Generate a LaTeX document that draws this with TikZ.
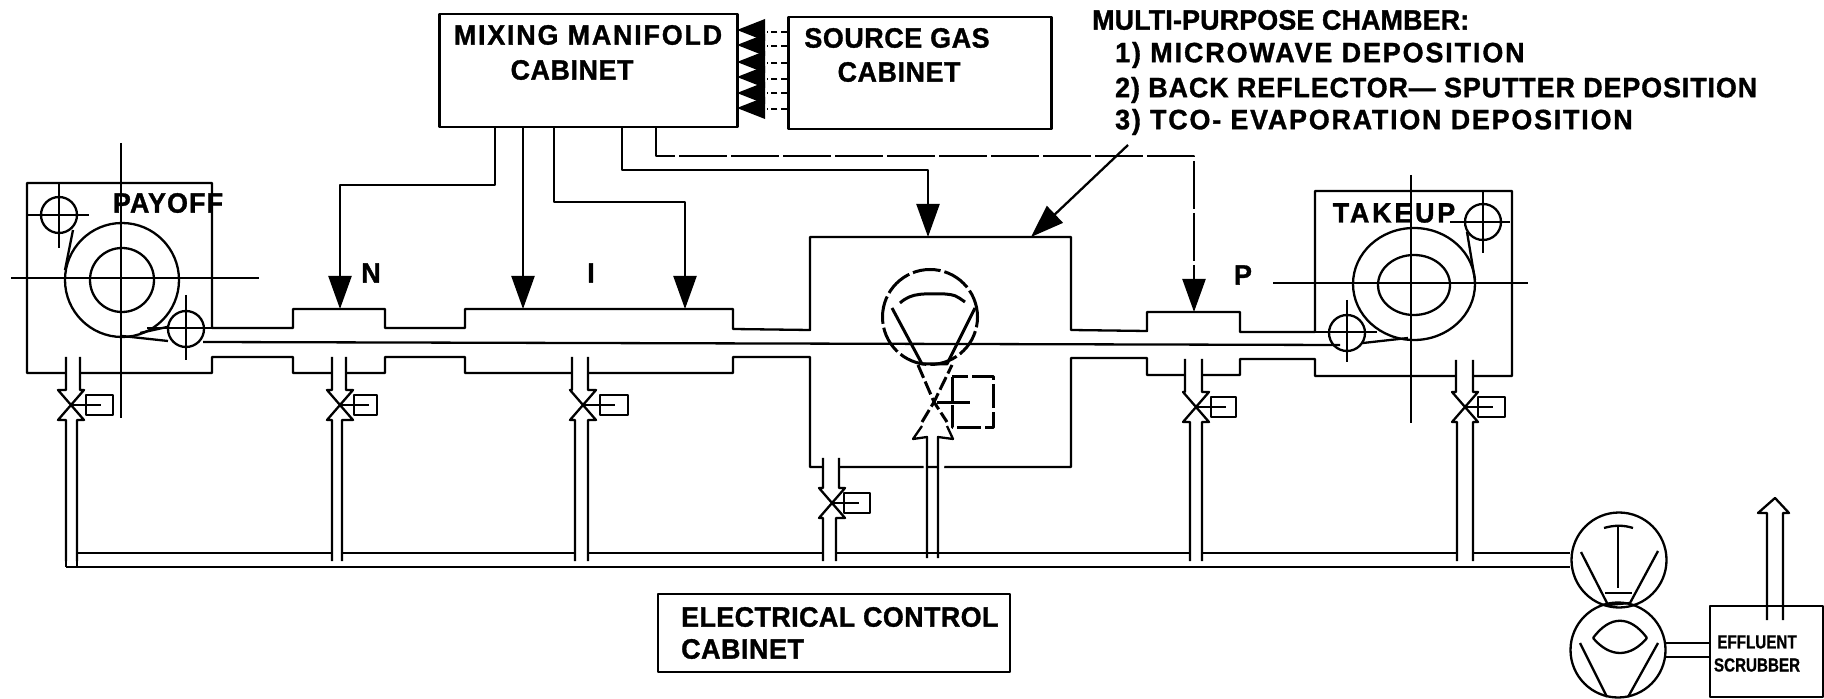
\documentclass[tikz,border=0pt]{standalone}
\usepackage{fontspec}
\newfontfamily\plotfont[FakeStretch=0.96,LetterSpace=2,BoldFeatures={FakeBold=1.2}]{Liberation Sans}
\newfontfamily\smallplotfont[FakeStretch=0.8,BoldFeatures={FakeBold=0.8}]{Liberation Sans}
\usetikzlibrary{
  arrows.meta, positioning, shapes.geometric
}

\begin{document}
\begin{tikzpicture}[
  x=0.5pt, y=-0.5pt, line width=1.15pt, line join=round,
  cabinet/.style={draw, minimum width=#1, inner sep=0pt},
  txt/.style={font=\fontsize{14}{14}\plotfont\bfseries, inner sep=0pt},
  spaced/.style={inner sep=0pt, font=\fontsize{14}{14}\plotfont\bfseries\addfontfeature{LetterSpace=#1}},
  smalltxt/.style={font=\fontsize{9.5}{9.5}\smallplotfont\bfseries, inner sep=0pt},
  roller/.style={draw, circle, inner sep=0pt, minimum size=18pt},
  pump/.style={draw, circle, inner sep=0pt, minimum size=47.5pt},
  gas/.style={-{Triangle[length=16.5pt,width=11.5pt]}},
  hidden/.style={line width=1.5pt, dash pattern=on 14pt off 2pt}
]
\useasboundingbox (0,0) rectangle (1824,699);

% cabinets
\node[cabinet=149pt, minimum height=56.5pt] (mixing) at (588.5,70.5) {};
\node[cabinet=131.5pt, minimum height=56pt] (source) at (920,73) {};
\node[cabinet=176pt, minimum height=39pt] (control) at (834,633) {};
\node[cabinet=56.5pt, minimum height=45.5pt] (scrubber) at (1766.5,651.5) {};

\node[spaced=6.4] (mixingtxt) at (588,35) {MIXING MANIFOLD};
\node[txt] (mixingtxtb) at (572,70) {CABINET};
\node[txt] (sourcetxt) at (897,38) {SOURCE GAS};
\node[txt] (sourcetxtb) at (899,72) {CABINET};
\node[spaced=1.5, anchor=west] (controltxt) at (680,617) {ELECTRICAL CONTROL};
\node[txt, anchor=west] (controltxtb) at (680,649) {CABINET};
\node[smalltxt] (scrubtxt) at (1757,642) {EFFLUENT};
\node[smalltxt] (scrubtxtb) at (1757,665) {SCRUBBER};

\node[spaced=0.5, anchor=west] (chambertxt) at (1091,20) {MULTI-PURPOSE CHAMBER:};
\node[spaced=6.8, anchor=west] (microtxt) at (1114,55) {1) MICROWAVE DEPOSITION};
\node[spaced=3.2, anchor=west] (backtxt) at (1114,90) {2) BACK REFLECTOR— SPUTTER DEPOSITION};
\node[spaced=6.4, anchor=west] (tcotxt) at (1114,122) {3) TCO- EVAPORATION DEPOSITION};

\node[spaced=4] (payofftxt) at (168,203) {PAYOFF};
\node[spaced=10] (takeuptxt) at (1394,213) {TAKEUP};
\node[txt] (ntxt) at (371,273) {N};
\node[txt] (itxt) at (591,273) {I};
\node[txt] (ptxt) at (1243,275) {P};

% source gas feeds
\foreach \gy/\ly in {30/32, 45/46, 62/63, 77/79, 93/93, 108/109} {
  \fill (737,\gy) -- (765,\gy-11) -- (765,\gy+11) -- cycle;
  \draw[densely dashed] (source.west |- 0,\ly) -- (767,\ly);
}

% chamber outline
\draw (212,183) -- (212,328) -- (293,328) -- (293,309) -- (385,309) -- (385,328)
  -- (465,328) -- (465,309) -- (733,309) -- (733,329) -- (810,330) -- (810,237)
  -- (1071,237) -- (1071,330) -- (1147,331) -- (1147,312) -- (1240,312) -- (1240,332)
  -- (1315,332) -- (1315,191) -- (1512,191) -- (1512,376) -- (1315,376) -- (1315,359)
  -- (1240,359) -- (1240,375) -- (1147,375) -- (1147,358) -- (1071,358) -- (1071,467)
  -- (810,467) -- (810,357) -- (733,357) -- (733,373) -- (465,373) -- (465,357)
  -- (385,357) -- (385,373) -- (293,373) -- (293,357) -- (212,357) -- (212,373)
  -- (27,373) -- (27,183) -- cycle;
\draw (203,342) -- (1340,345);

% manifold lines
\coordinate (nin) at (340,309);
\coordinate (iina) at (523,309);
\coordinate (iinb) at (685,309);
\coordinate (cin) at (928,237);
\coordinate (pin) at (1194,312);
\coordinate (leader) at (1128,145);
\coordinate (leadtip) at (1031,237);
\draw[gas] (495,127) -- (495,185) -| (nin);
\draw[gas] (523,127) -- (iina);
\draw[gas] (554,127) -- (554,202) -| (iinb);
\draw[gas] (622,127) -- (622,170) -| (cin);
\draw[gas, dash pattern=on 24pt off 2pt] (656,127) -- (656,156) -| (pin);
\draw[gas] (leader) -- (leadtip);

% payoff
\node[roller, minimum size=57pt] (payoff) at (122,280) {};
\node[roller, minimum size=32pt] (payoffcore) at (122,280) {};
\node[roller] (payoffa) at (59,215) {};
\node[roller] (payoffb) at (186,329) {};
\draw (121,143) -- (121,418);
\draw (11,278) -- (259,278);
\draw (59,183) -- (59,248);
\draw (28,215) -- (89,215);
\draw (186,295) -- (186,360);
\draw (147,328) -- (212,328);
\draw (73,230) -- (65,270);
\draw (122,336) -- (168,341);
\draw (140,333) -- (167,327);

% takeup
\node[draw, ellipse, inner sep=0pt, minimum width=61pt, minimum height=56pt] (takeup) at (1414,284) {};
\node[draw, ellipse, inner sep=0pt, minimum width=36pt, minimum height=30pt] (takeupcore) at (1414,285) {};
\node[roller] (takeupa) at (1483,222) {};
\node[roller] (takeupb) at (1347,333) {};
\draw (1411,175) -- (1411,423);
\draw (1273,283) -- (1528,283);
\draw (1483,191) -- (1483,253);
\draw (1450,222) -- (1510,222);
\draw (1347,300) -- (1347,362);
\draw (1315,332) -- (1377,332);
\draw (1467,232) -- (1475,280);
\draw (1363,343) -- (1408,338);

% pumps and header
\node[pump] (boost) at (1619,560) {};
\node[pump] (rough) at (1618,650) {};
\draw (77,553) -- (boost.west |- 0,553);
\draw (66,567) -- (boost.west |- 0,567);

% isolation valves
\foreach \cx/\cy/\top/\ua/\ub/\la/\lb/\bl/\br in {
  71/405/357/66/80/66/77/86/113,
  340/405/357/332/346/332/342/354/377,
  583/405/357/572/588/575/588/600/628,
  832/503/458/823/839/823/836/844/870,
  1196/407/359/1185/1202/1190/1202/1211/1236,
  1465/407/360/1456/1473/1457/1473/1478/1505} {
  \draw[fill=white] (\ua,\top) -- (\ua,\cy-15) -- (\cx-13,\cy-15) -- (\cx,\cy)
    -- (\cx+13,\cy-15) -- (\ub,\cy-15) -- (\ub,\top);
  \draw[fill=white] (\la,561) -- (\la,\cy+15) -- (\cx-13,\cy+15) -- (\cx,\cy)
    -- (\cx+13,\cy+15) -- (\lb,\cy+15) -- (\lb,561);
  \draw (\bl,\cy-10) rectangle (\br,\cy+10);
  \draw (\cx,\cy) -- (\bl+15,\cy);
}
\draw (66,561) -- (66,567);
\draw (77,561) -- (77,567);

% chamber pump
\node[pump, hidden] (deppump) at (930,317) {};
\draw[line width=1.5pt] (892,308) -- (922,364) -- (947,364) -- (975,308);
\draw[line width=1.5pt] (900,303) .. controls (912,292) and (925,294) .. (945,294) .. controls (955,295) .. (965,302);
\draw[line width=1.5pt, dash pattern=on 7pt off 2pt] (918,365) -- (934,402) -- (952,365);
\draw[line width=1.5pt, dash pattern=on 7pt off 2pt] (922,422) -- (934,402) -- (947,422);
\draw[line width=1.5pt, dash pattern=on 12pt off 2pt] (952,377) rectangle (993,428);
\draw[line width=1.5pt] (937,403) -- (970,403);
\draw[fill=white] (927,558) -- (927,437) -- (913,439) -- (922,426);
\draw[fill=white] (938,558) -- (938,437) -- (953,439) -- (947,426);

% boost pump
\draw (1581,552) -- (1608,605) -- (1630,603) -- (1658,551);
\draw (1604,528) .. controls (1614,525) and (1624,525) .. (1633,528);
\draw (1618,527) -- (1618,588);
\draw (1605,593) -- (1632,593);

% roughing pump
\draw (1593,638) .. controls (1610,615) and (1630,615) .. (1647,638);
\draw (1593,638) .. controls (1610,658) and (1630,658) .. (1647,638);
\draw (1580,643) -- (1607,697);
\draw (1658,643) -- (1628,697);

% scrubber lines
\draw (1665,643) -- (scrubber.west |- 0,643);
\draw (1665,657) -- (scrubber.west |- 0,657);
\draw (1767,620) -- (1767,513) -- (1758,513) -- (1775,498) -- (1789,513) -- (1783,513) -- (1783,620);
\end{tikzpicture}
\end{document}
